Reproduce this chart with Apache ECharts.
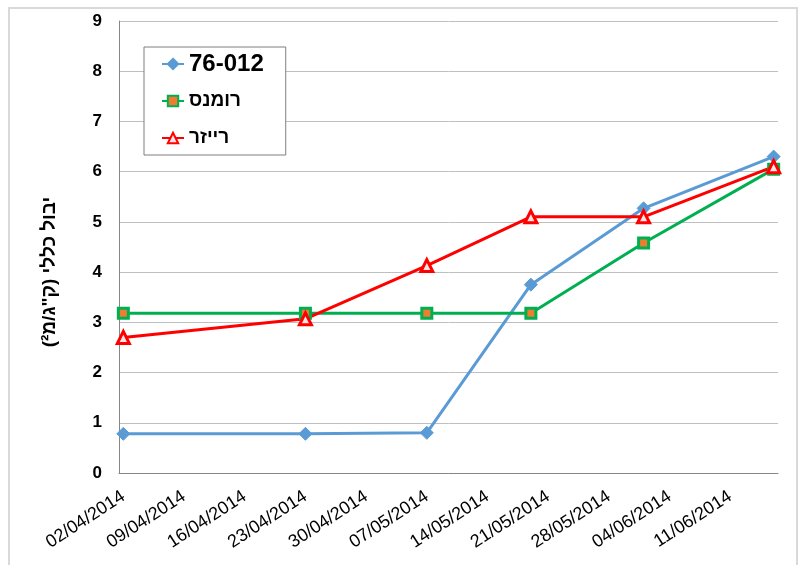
<!DOCTYPE html>
<html>
<head>
<meta charset="utf-8">
<script src="https://cdn.jsdelivr.net/npm/echarts@6/dist/echarts.min.js"></script>
<style>
    html, body { margin: 0; padding: 0; background: #fff; }
    #chart { width: 800px; height: 565px; }
</style>
</head>
<body>
<div id="chart"></div>
<script type="text/javascript">
    // 日期轴：从第一次测量到最后一次，按天划分（每7天一个刻度标签）
    var startDate = '02/04/2014';
    var endDate = '16/06/2014';
    var tickEvery = 7;

    // 测量日期
    var sampleDates = ['02/04/2014', '23/04/2014', '07/05/2014', '19/05/2014', '01/06/2014', '16/06/2014'];

    var seriesNames = ['76-012', 'רומנס', 'רייזר'];
    var values76012 = [0.78, 0.78, 0.8, 3.75, 5.27, 6.3];
    var valuesRomans = [3.18, 3.18, 3.18, 3.18, 4.58, 6.05];
    var valuesRaizer = [2.7, 3.07, 4.13, 5.1, 5.1, 6.1];

    var yTicks = [0, 1, 2, 3, 4, 5, 6, 7, 8, 9];
    var yTitle = '\u200Fיבול כללי (ק"ג/מ²)\u200F';

    function parseDay(s) {
        var p = s.split('/');
        return Date.UTC(+p[2], +p[1] - 1, +p[0]);
    }
    function fmtDay(t) {
        var d = new Date(t);
        var dd = d.getUTCDate(), mm = d.getUTCMonth() + 1;
        return (dd < 10 ? '0' + dd : dd) + '/' + (mm < 10 ? '0' + mm : mm) + '/' + d.getUTCFullYear();
    }
    var days = [];
    for (var t = parseDay(startDate); t <= parseDay(endDate); t += 86400000) {
        days.push(fmtDay(t));
    }
    function pairs(vals) {
        return sampleDates.map(function (d, i) { return [d, vals[i]]; });
    }

    var font = 'Liberation Sans, Arial, DejaVu Sans, sans-serif';
    var myChart = echarts.init(document.getElementById('chart'));

    var option = {
        backgroundColor: '#fff',
        animation: false,
        textStyle: { fontFamily: font },
        graphic: [{
            type: 'rect',
            shape: { x: 9, y: 8, width: 788, height: 580 },
            style: { fill: null, stroke: '#D9D9D9', lineWidth: 2 },
            silent: true
        }],
        grid: { left: 119, right: 22, top: 21, bottom: 92 },
        legend: {
            orient: 'vertical',
            left: 144,
            top: 47,
            padding: [5, 22, 5, 17],
            itemGap: 13,
            itemWidth: 22,
            itemHeight: 13,
            borderColor: '#7F7F7F',
            borderWidth: 1,
            backgroundColor: '#fff',
            data: seriesNames,
            formatter: function (name) {
                return name === seriesNames[0] ? '{num|' + name + '}' : '{heb|' + name + '}';
            },
            textStyle: {
                color: '#000',
                fontFamily: font,
                rich: {
                    num: { fontSize: 24, fontWeight: 'bold', color: '#000', fontFamily: font, lineHeight: 24, height: 24 },
                    heb: { fontSize: 19, fontWeight: 'bold', color: '#000', fontFamily: font, lineHeight: 24, height: 24 }
                }
            }
        },
        xAxis: {
            type: 'category',
            boundaryGap: true,
            data: days,
            axisLine: { lineStyle: { color: '#868686', width: 1 } },
            axisTick: { show: false },
            axisLabel: {
                interval: tickEvery - 1,
                rotate: 33,
                margin: 22,
                fontSize: 18,
                color: '#000',
                fontFamily: font
            },
            splitLine: { show: false }
        },
        yAxis: {
            type: 'value',
            min: yTicks[0],
            max: yTicks[yTicks.length - 1],
            interval: 1,
            name: yTitle,
            nameLocation: 'middle',
            nameGap: 60,
            nameRotate: 90,
            nameTextStyle: { fontSize: 19, fontWeight: 'bold', color: '#000', fontFamily: font, padding: [0, 50, 0, 0] },
            axisLine: { show: true, lineStyle: { color: '#868686', width: 1 } },
            axisTick: { show: false },
            axisLabel: { fontSize: 17, fontWeight: 'bold', color: '#000', margin: 17, fontFamily: font },
            splitLine: { show: true, lineStyle: { color: '#BFBFBF', width: 1 } }
        },
        series: [{
                name: seriesNames[0],
                type: 'line',
                data: pairs(values76012),
                showAllSymbol: true,
                symbol: 'diamond',
                symbolSize: 13,
                lineStyle: { color: '#5B9BD5', width: 3 },
                itemStyle: { color: '#5B9BD5', borderColor: '#5B9BD5', borderWidth: 1 }
            },
            {
                name: seriesNames[1],
                type: 'line',
                data: pairs(valuesRomans),
                showAllSymbol: true,
                symbol: 'rect',
                symbolSize: 10,
                lineStyle: { color: '#00B050', width: 3 },
                itemStyle: { color: '#ED7D31', borderColor: '#00B050', borderWidth: 3 }
            },
            {
                name: seriesNames[2],
                type: 'line',
                data: pairs(valuesRaizer),
                showAllSymbol: true,
                symbol: 'triangle',
                symbolSize: 12,
                lineStyle: { color: '#FF0000', width: 3 },
                itemStyle: { color: '#FCE4E4', borderColor: '#FF0000', borderWidth: 3 }
            }
        ]
    };

    myChart.setOption(option);
</script>
</body>
</html>
